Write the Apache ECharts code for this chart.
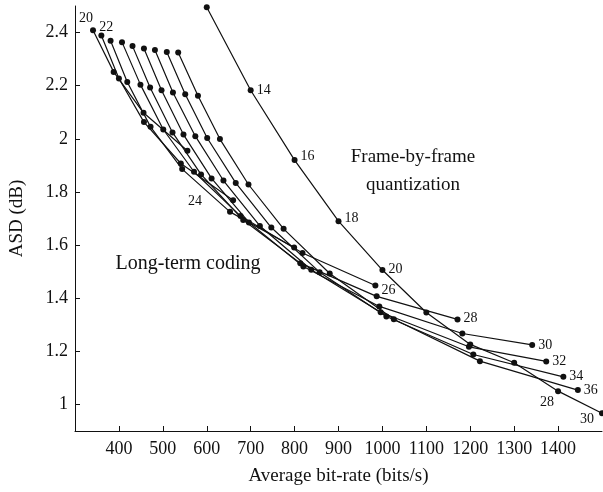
<!DOCTYPE html>
<html><head><meta charset="utf-8">
<script src="https://cdn.jsdelivr.net/npm/echarts@6/dist/echarts.min.js"></script>
<style>html,body{margin:0;padding:0;background:#fff}#c{width:603px;height:492px}</style>
</head><body><div id="c"></div>
<script>
// Frame-by-frame quantization curve
const frameX = [600, 700, 800, 900, 1000, 1100, 1200, 1300, 1400, 1500];
const frameY = [2.495, 2.183, 1.92, 1.69, 1.506, 1.346, 1.226, 1.157, 1.05, 0.967];
const frameLabels = ['', '14', '16', '18', '20', '', '', '', '28', '30'];

// Long-term coding curves: [bit-rate, ASD]
const lt20 = [[341, 2.409], [388, 2.252], [456, 2.098], [556, 1.955]];
const lt22 = [[360, 2.389], [400, 2.227], [457, 2.063], [541, 1.907], [660, 1.769]];
const lt24 = [[381, 2.369], [419, 2.214], [472, 2.045], [544, 1.886], [653, 1.725], [799, 1.591]];
const lt26 = [[407, 2.364], [449, 2.204], [501, 2.035], [571, 1.876], [677, 1.709], [818, 1.570], [984, 1.448]];
const lt28 = [[431, 2.349], [471, 2.193], [522, 2.024], [587, 1.866], [683, 1.694], [813, 1.532], [987, 1.407], [1171, 1.320]];
const lt30 = [[457, 2.340], [497, 2.183], [547, 2.016], [611, 1.851], [696, 1.685], [820, 1.519], [993, 1.369], [1182, 1.267], [1341, 1.224]];
const lt32 = [[482, 2.334], [523, 2.174], [574, 2.010], [638, 1.843], [721, 1.672], [838, 1.507], [996, 1.347], [1197, 1.217], [1373, 1.162]];
const lt34 = [[509, 2.327], [551, 2.168], [601, 2.003], [666, 1.834], [747, 1.666], [857, 1.498], [1009, 1.331], [1207, 1.188], [1412, 1.104]];
const lt36 = [[535, 2.325], [580, 2.162], [630, 1.999], [695, 1.828], [775, 1.661], [880, 1.493], [1026, 1.321], [1222, 1.163], [1445, 1.054]];

const ltCurves = [lt20, lt22, lt24, lt26, lt28, lt30, lt32, lt34, lt36];
// label text per curve and the index of the point it sits next to (-1 = last point)
const ltLabelText = ['20', '22', '24', '26', '28', '30', '32', '34', '36'];
const ltLabelIdx = [0, 0, 4, -1, -1, -1, -1, -1, -1];

const xTicks = [400, 500, 600, 700, 800, 900, 1000, 1100, 1200, 1300, 1400];
const yTicks = [1, 1.2, 1.4, 1.6, 1.8, 2, 2.2, 2.4];

const FONT = '"Liberation Serif", "DejaVu Serif", serif';
const INK = '#111';
const labelStyle = {fontFamily: FONT, fontSize: 14, color: INK};

// label placement per long-term label (styling only)
const ltLabelPlace = {
  '20': {position: 'top', distance: 2, offset: [-7, 0]},
  '22': {position: 'top', distance: 1, offset: [5, 3]},
  '24': {position: 'left', distance: 25, offset: [0, -11]},
  '26': {position: 'right', distance: 3, offset: [0, 5]},
  '28': {position: 'right', distance: 3, offset: [0, -1]},
  '30': {position: 'right', distance: 3, offset: [0, 0]},
  '32': {position: 'right', distance: 3, offset: [0, 0]},
  '34': {position: 'right', distance: 3, offset: [0, 0]},
  '36': {position: 'right', distance: 3, offset: [0, 0]}
};
const framePlace = {
  '14': {position: 'right', distance: 3, offset: [0, 0]},
  '16': {position: 'right', distance: 3, offset: [0, -4]},
  '18': {position: 'right', distance: 3, offset: [0, -3]},
  '20': {position: 'right', distance: 3, offset: [0, -1]},
  '28': {position: 'bottom', distance: 1, offset: [-11, 0]},
  '30': {position: 'left', distance: 5, offset: [0, 6]}
};

function lineSeries(pts, labels) {
  return {
    type: 'line',
    data: pts.map((p, i) => {
      const d = {value: p};
      if (labels && labels[i]) {
        d.label = Object.assign({show: true, formatter: labels[i].text}, labelStyle, labels[i].place);
      }
      return d;
    }),
    symbol: 'circle',
    symbolSize: 6,
    showSymbol: true,
    itemStyle: {color: INK},
    lineStyle: {color: INK, width: 1.2},
    label: {show: false},
    emphasis: {disabled: true},
    z: 2
  };
}

const series = [];
const framePts = frameX.map((x, i) => [x, frameY[i]]);
series.push(lineSeries(framePts, frameLabels.map(t => t ? {text: t, place: framePlace[t]} : null)));
ltCurves.forEach((c, k) => {
  const labs = c.map(() => null);
  const idx = ltLabelIdx[k] < 0 ? c.length - 1 : ltLabelIdx[k];
  labs[idx] = {text: ltLabelText[k], place: ltLabelPlace[ltLabelText[k]]};
  series.push(lineSeries(c, labs));
});

const chart = echarts.init(document.getElementById('c'), null, {renderer: 'canvas'});
chart.setOption({
  animation: false,
  backgroundColor: '#fff',
  grid: {left: 75, right: 1, top: 6, bottom: 61, containLabel: false},
  xAxis: {
    type: 'value', min: 300, max: 1500,
    name: 'Average bit-rate (bits/s)', nameLocation: 'middle', nameGap: 36,
    nameTextStyle: {fontFamily: FONT, fontSize: 19, color: INK},
    axisLine: {show: true, lineStyle: {color: INK, width: 1}},
    axisTick: {show: true, inside: true, length: 5, customValues: xTicks, lineStyle: {color: INK}},
    axisLabel: {customValues: xTicks, formatter: v => String(v), fontFamily: FONT, fontSize: 18, color: INK, margin: 9},
    splitLine: {show: false}
  },
  yAxis: {
    type: 'value', min: 0.9, max: 2.5,
    name: 'ASD (dB)', nameLocation: 'middle', nameGap: 48, nameRotate: 90,
    nameTextStyle: {fontFamily: FONT, fontSize: 19, color: INK},
    axisLine: {show: true, lineStyle: {color: INK, width: 1}},
    axisTick: {show: true, inside: true, length: 5, customValues: yTicks, lineStyle: {color: INK}},
    axisLabel: {customValues: yTicks, formatter: v => String(v), fontFamily: FONT, fontSize: 18, color: INK, margin: 7},
    splitLine: {show: false}
  },
  graphic: [
    {type: 'text', x: 413, y: 157, style: {text: 'Frame-by-frame', font: '19px ' + FONT, fill: INK, textAlign: 'center', textVerticalAlign: 'middle'}},
    {type: 'text', x: 413, y: 185, style: {text: 'quantization', font: '19px ' + FONT, fill: INK, textAlign: 'center', textVerticalAlign: 'middle'}},
    {type: 'text', x: 188, y: 264, style: {text: 'Long-term coding', font: '20px ' + FONT, fill: INK, textAlign: 'center', textVerticalAlign: 'middle'}}
  ],
  series: series
});
</script>
</body></html>
